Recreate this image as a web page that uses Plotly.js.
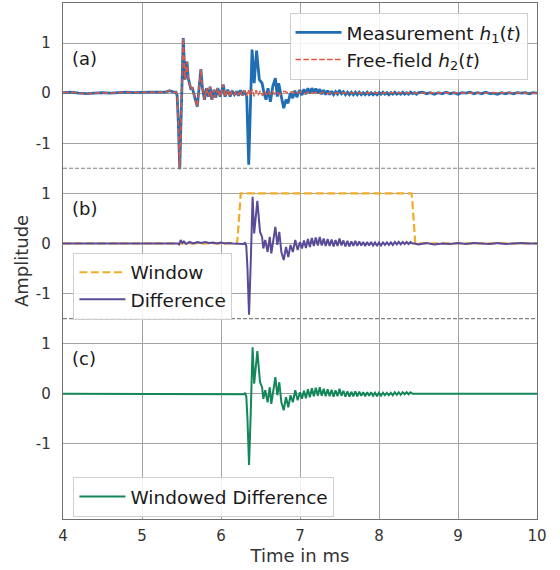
<!DOCTYPE html>
<html>
<head>
<meta charset="utf-8">
<script src="https://cdn.plot.ly/plotly-3.0.1.min.js"></script>
<style>
  html, body { margin: 0; padding: 0; background: #ffffff; }
  #chart { width: 560px; height: 570px; }
</style>
</head>
<body>
<div id="chart"></div>
<script>
// ---------------- DATA ----------------
// Quiet lead-in, shared by measurement and free-field
const tPre = [4.0, 4.1, 4.2, 4.3, 4.4, 4.5, 4.6, 4.7, 4.8, 4.9, 5.0, 5.1, 5.2, 5.3, 5.35, 5.4, 5.43];
const hPre = [0.01, 0.02, 0.0, -0.01, 0.0, 0.01, 0.0, 0.01, 0.02, 0.01, 0.02, 0.02, 0.02, 0.02, 0.05, 0.02, 0.02];

// Direct sound (identical in h1 and h2)
const tDirect = [5.445, 5.46, 5.478, 5.50, 5.522, 5.545, 5.57, 5.585, 5.60, 5.62, 5.635, 5.655, 5.67, 5.70, 5.745, 5.765, 5.79, 5.815, 5.84, 5.862, 5.884, 5.913, 5.934, 5.96, 5.99, 6.03, 6.05, 6.086, 6.115, 6.14, 6.17, 6.2];
const hDirect = [-0.05, -0.6, -1.52, -0.2, 1.10, 0.27, 0.63, 0.3, 0.2, 0.07, 0.12, -0.05, -0.1, -0.27, 0.48, 0.1, -0.13, 0.1, -0.07, 0.13, -0.13, 0.07, -0.09, 0.1, -0.07, 0.17, -0.07, 0.07, -0.07, 0.05, -0.03, 0.04];

// Measurement h1: reflection
const tH1Refl = [6.22, 6.245, 6.27, 6.295, 6.315, 6.326, 6.351, 6.393, 6.42, 6.45, 6.485, 6.52, 6.545, 6.57, 6.595, 6.625, 6.655, 6.688, 6.713, 6.73, 6.764, 6.794, 6.823, 6.848, 6.878, 6.908, 6.935, 6.96, 6.985];
const h1Refl  = [-0.05, 0.06, -0.04, 0.05, -0.03, -0.07, -1.43, 0.87, 0.2, 0.85, 0.27, 0.2, 0.0, -0.13, 0.1, -0.17, 0.13, 0.3, -0.07, 0.2, -0.07, -0.3, -0.13, -0.2, 0.0, -0.1, 0.05, -0.08, 0.03];

// Measurement h1: tail
const tH1Tail = [7.0, 7.025, 7.05, 7.075, 7.1, 7.125, 7.15, 7.175, 7.2, 7.225, 7.25, 7.275, 7.3, 7.325, 7.35, 7.375, 7.4, 7.425, 7.45, 7.475,
                 7.5, 7.525, 7.55, 7.575, 7.6, 7.625, 7.65, 7.675, 7.7, 7.725, 7.75, 7.775, 7.8, 7.825, 7.85, 7.875, 7.9, 7.925, 7.95, 7.975,
                 8.0, 8.025, 8.05, 8.075, 8.1, 8.125, 8.15, 8.175, 8.2, 8.225, 8.25, 8.275, 8.3, 8.325, 8.35, 8.375, 8.4, 8.425, 8.45, 8.475, 8.5,
                 8.55, 8.6, 8.65, 8.7, 8.75, 8.8, 8.85, 8.9, 8.95, 9.0, 9.05, 9.1, 9.15, 9.2, 9.25, 9.3, 9.35, 9.4, 9.45, 9.5,
                 9.55, 9.6, 9.65, 9.7, 9.75, 9.8, 9.85, 9.9, 9.95, 10.0];
const h1Tail  = [0.06, -0.04, 0.08, -0.02, 0.10, 0.0, 0.10, 0.01, 0.09, 0.0, 0.08, -0.02, 0.06, -0.03, 0.05, -0.03, 0.04, -0.03, 0.03, -0.02,
                 0.06, -0.01, 0.03, -0.03, 0.02, -0.03, 0.02, -0.03, 0.02, -0.03, 0.02, -0.03, 0.01, -0.03, 0.02, -0.03, 0.01, -0.03, 0.01, -0.03,
                 0.01, -0.02, 0.02, -0.02, 0.01, -0.03, 0.01, -0.02, 0.02, -0.02, 0.01, -0.02, 0.02, -0.02, 0.01, -0.02, 0.02, -0.01, 0.01, -0.02, 0.01,
                 0.02, -0.01, 0.01, -0.02, 0.01, -0.01, 0.02, -0.01, 0.01, -0.02, 0.01, 0.0, 0.02, -0.01, 0.01, -0.01, 0.02, -0.01, 0.0, -0.02,
                 0.01, -0.01, 0.01, -0.01, 0.01, 0.0, 0.01, -0.01, 0.01, 0.0];

// Free-field h2 after the direct sound
const tH2Rest = [6.22, 6.245, 6.27, 6.295, 6.32, 6.345, 6.37, 6.395, 6.42, 6.445, 6.47, 6.5, 6.525, 6.55, 6.575, 6.6, 6.625, 6.65, 6.675, 6.7,
                 6.75, 6.8, 6.85, 6.9, 6.95, 7.0, 7.05, 7.1, 7.15, 7.2, 7.25, 7.3, 7.35, 7.4, 7.45, 7.5, 7.6, 7.7, 7.8, 7.9,
                 8.0, 8.2, 8.4, 8.6, 8.8, 9.0, 9.25, 9.5, 9.75, 10.0];
const h2Rest  = [-0.04, 0.05, -0.05, 0.06, -0.06, 0.07, -0.05, 0.08, -0.06, 0.06, -0.04, 0.05, -0.05, 0.04, -0.03, 0.04, -0.03, 0.04, -0.02, 0.03,
                 -0.03, 0.04, 0.0, 0.03, -0.02, 0.03, -0.01, 0.02, 0.0, 0.02, -0.01, 0.02, -0.01, 0.01, 0.0, 0.01, 0.0, 0.01, 0.0, 0.01,
                 0.0, 0.01, 0.0, 0.0, 0.01, 0.0, 0.0, 0.01, 0.0, 0.0];

// Window
const tWindow = [4.0, 6.2, 6.21, 6.22, 6.23, 6.24, 6.25, 8.41, 8.42, 8.43, 8.44, 8.45, 8.46, 10.0];
const window_ = [0, 0, 0.1, 0.35, 0.65, 0.9, 1, 1, 0.9, 0.65, 0.35, 0.1, 0, 0];

// Difference h1 - h2
const tDiffPre = [4.0, 4.5, 5.0, 5.4, 5.45, 5.47, 5.49, 5.51, 5.53, 5.56, 5.6, 5.65, 5.7, 5.75, 5.8, 5.85, 5.9, 5.95, 6.0, 6.05, 6.1, 6.15, 6.2];
const diffPre  = [0.0, 0.0, 0.0, 0.0, 0.0, -0.02, 0.07, 0.01, 0.04, -0.01, 0.03, 0.0, 0.03, 0.01, 0.03, 0.01, 0.02, 0.0, 0.02, 0.0, 0.01, 0.0, 0.0];

const tDiffCore = [6.25, 6.29, 6.305, 6.32, 6.335, 6.355, 6.378, 6.40, 6.42, 6.46, 6.494, 6.52, 6.536, 6.56, 6.59, 6.617, 6.637, 6.66, 6.688, 6.713,
                   6.738, 6.764, 6.794, 6.823, 6.852, 6.88, 6.91, 6.94, 6.97,
                   7.0, 7.025, 7.05, 7.075, 7.1, 7.125, 7.15, 7.175, 7.2, 7.225, 7.25, 7.275, 7.3, 7.325, 7.35, 7.375, 7.4, 7.425, 7.45, 7.475,
                   7.5, 7.525, 7.55, 7.575, 7.6, 7.625, 7.65, 7.675, 7.7, 7.725, 7.75, 7.775, 7.8, 7.825, 7.85, 7.875, 7.9, 7.925, 7.95, 7.975,
                   8.0, 8.025, 8.05, 8.075, 8.1, 8.125, 8.15, 8.175, 8.2, 8.225, 8.25, 8.275, 8.3, 8.325, 8.35, 8.375, 8.4, 8.425];
const diffCore  = [-0.01, -0.01, 0.02, -0.05, -0.5, -1.42, -0.3, 0.93, 0.2, 0.85, 0.23, 0.13, -0.1, 0.07, -0.17, 0.13, -0.2, 0.03, 0.33, -0.03,
                   0.23, -0.17, -0.33, -0.07, -0.27, -0.03, -0.17, 0.07, -0.13,
                   0.03, -0.10, 0.06, -0.09, 0.09, -0.07, 0.11, -0.05, 0.12, -0.04, 0.13, -0.04, 0.10, -0.05, 0.09, -0.05, 0.08, -0.06, 0.07, -0.05,
                   0.10, -0.04, 0.06, -0.06, 0.05, -0.06, 0.04, -0.05, 0.05, -0.05, 0.04, -0.04, 0.03, -0.05, 0.03, -0.04, 0.03, -0.04, 0.02, -0.05,
                   0.02, -0.04, 0.02, -0.03, 0.02, -0.03, 0.02, -0.03, 0.03, -0.02, 0.03, -0.02, 0.03, -0.01, 0.03, -0.01, 0.03, 0.0];

const tDiffPost = [8.45, 8.5, 8.6, 8.7, 8.8, 8.9, 9.0, 9.1, 9.2, 9.3, 9.4, 9.5, 9.6, 9.7, 9.8, 9.9, 10.0];
const diffPost  = [0.0, -0.02, 0.01, -0.02, 0.0, -0.01, 0.01, -0.01, 0.01, 0.0, -0.01, 0.01, -0.01, 0.0, 0.01, 0.0, 0.0];

// Windowed difference: zero outside the window, the difference inside it
const tWinLead = [4.0, 6.24];
const winLead  = [0, 0];
const tWinTrail = [8.45, 10.0];
const winTrail  = [0, 0];

// Axis ticks
const xTicks = [4, 5, 6, 7, 8, 9, 10];
const yTickLabels = ['-1', '0', '1'];

// ---------------- LAYOUT CONSTANTS ----------------
const OFF_A = 6, OFF_B = 3, OFF_C = 0;
const shift = (arr, off) => arr.map(v => v + off);

const h1T = [].concat(tPre, tDirect, tH1Refl, tH1Tail);
const h1V = [].concat(hPre, hDirect, h1Refl, h1Tail);
const h2T = [].concat(tPre, tDirect, tH2Rest);
const h2V = [].concat(hPre, hDirect, h2Rest);
const dT = [].concat(tDiffPre, tDiffCore, tDiffPost);
const dV = [].concat(diffPre, diffCore, diffPost);
const wdT = [].concat(tWinLead, tDiffCore, tWinTrail);
const wdV = [].concat(winLead, diffCore, winTrail);

const FONT = 'DejaVu Sans, sans-serif';
const C_BLUE = '#1f6db3', C_RED = '#e5573f', C_ORANGE = '#f2ac2a', C_PURPLE = '#5a4a98', C_GREEN = '#13875a';

const traces = [
  {x: h1T, y: shift(h1V, OFF_A), type: 'scatter', mode: 'lines', name: 'Measurement <i>h</i><sub>1</sub>(<i>t</i>)',
   line: {color: C_BLUE, width: 2.8}, legend: 'legend', legendgroup: 'a1'},
  {x: h2T, y: shift(h2V, OFF_A), type: 'scatter', mode: 'lines', name: 'Free-field <i>h</i><sub>2</sub>(<i>t</i>)',
   line: {color: C_RED, width: 1.5, dash: '5.5px,2.4px'}, legend: 'legend', legendgroup: 'a2'},
  {x: tWindow, y: shift(window_, OFF_B), type: 'scatter', mode: 'lines', name: 'Window',
   line: {color: C_ORANGE, width: 2.2, dash: '8px,3.5px'}, legend: 'legend2', legendgroup: 'b1'},
  {x: dT, y: shift(dV, OFF_B), type: 'scatter', mode: 'lines', name: 'Difference',
   line: {color: C_PURPLE, width: 2}, legend: 'legend2', legendgroup: 'b2'},
  {x: wdT, y: shift(wdV, OFF_C), type: 'scatter', mode: 'lines', name: 'Windowed Difference',
   line: {color: C_GREEN, width: 2}, legend: 'legend3', legendgroup: 'c1'}
];

const tickVals = [], tickText = [];
[OFF_C, OFF_B, OFF_A].forEach(off => {
  [-1, 0, 1].forEach((v, i) => { tickVals.push(v + off); tickText.push(yTickLabels[i]); });
});

const legendCommon = {
  font: {family: FONT, size: 18.5, color: '#1a1a1a'},
  bgcolor: 'rgba(255,255,255,0.85)', bordercolor: '#cfcfcf', borderwidth: 1,
  traceorder: 'grouped', tracegroupgap: 0, itemwidth: 46
};

const layout = {
  width: 560, height: 570,
  margin: {l: 63, r: 23, t: 3, b: 51},
  paper_bgcolor: '#ffffff', plot_bgcolor: '#ffffff',
  font: {family: FONT, color: '#333333'},
  showlegend: true,
  xaxis: {
    range: [4, 10], tickvals: xTicks, ticktext: xTicks.map(String),
    showgrid: true, gridcolor: '#a3a3a3', gridwidth: 1, zeroline: false,
    showline: true, mirror: true, linecolor: '#707070', linewidth: 1.3,
    ticks: 'outside', ticklen: 3, tickcolor: 'rgba(0,0,0,0)',
    tickfont: {family: FONT, size: 15, color: '#333333'},
    title: {text: 'Time in ms', font: {family: FONT, size: 18, color: '#333333'}, standoff: 4},
    automargin: false
  },
  yaxis: {
    range: [-2.5, 7.8], tickvals: tickVals, ticktext: tickText,
    showgrid: true, gridcolor: '#a3a3a3', gridwidth: 1, zeroline: false,
    showline: true, mirror: true, linecolor: '#707070', linewidth: 1.3,
    ticks: 'outside', ticklen: 8, tickcolor: 'rgba(0,0,0,0)',
    tickfont: {family: FONT, size: 15, color: '#333333'},
    title: {text: 'Amplitude', font: {family: FONT, size: 18, color: '#333333'}, standoff: 2},
    automargin: false
  },
  legend: Object.assign({}, legendCommon, {x: 0.98, xanchor: 'right', y: 0.981, yanchor: 'top'}),
  legend2: Object.assign({}, legendCommon, {x: 0.022, xanchor: 'left', y: 0.516, yanchor: 'top'}),
  legend3: Object.assign({}, legendCommon, {x: 0.022, xanchor: 'left', y: 0.0814, yanchor: 'top'}),
  shapes: [OFF_A - 1.5, OFF_B - 1.5].map(yv => ({
    type: 'line', xref: 'x', yref: 'y', x0: 4, x1: 10, y0: yv, y1: yv,
    line: {color: '#808080', width: 1.1, dash: '4px,2px'}, layer: 'below'
  })),
  annotations: [['(a)', OFF_A], ['(b)', OFF_B], ['(c)', OFF_C]].map(([txt, off]) => ({
    text: txt, x: 4.085, y: off + 0.7, xref: 'x', yref: 'y', xanchor: 'left', yanchor: 'middle',
    showarrow: false, font: {family: FONT, size: 18, color: '#1a1a1a'}
  }))
};

Plotly.newPlot('chart', traces, layout, {staticPlot: true, displayModeBar: false});
</script>
</body>
</html>
